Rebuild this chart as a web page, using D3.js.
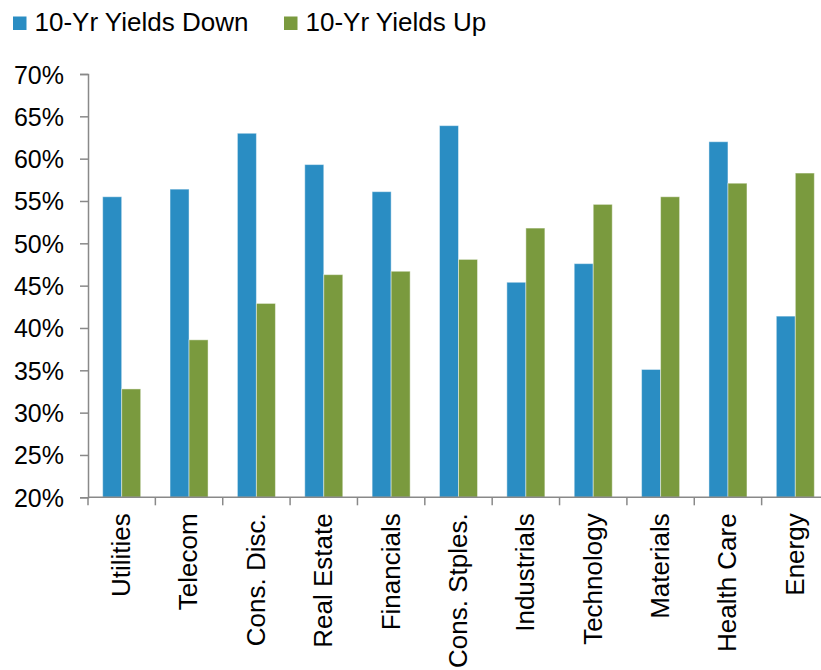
<!DOCTYPE html>
<html>
<head>
<meta charset="utf-8">
<script src="https://cdn.jsdelivr.net/npm/d3@7"></script>
<style>
  html, body { margin: 0; padding: 0; background: #ffffff; }
  svg { display: block; }
  text { font-family: "Liberation Sans", Arial, sans-serif; fill: #000000; }
</style>
</head>
<body>
<div id="chart"></div>
<script>
// Sector hit rates by direction of the 10-year Treasury yield
const categories = ["Utilities", "Telecom", "Cons. Disc.", "Real Estate", "Financials",
  "Cons. Stples.", "Industrials", "Technology", "Materials", "Health Care", "Energy"];
const seriesNames = ["10-Yr Yields Down", "10-Yr Yields Up"];
const yieldsDown = [55.5, 56.4, 63.0, 59.3, 56.1, 63.9, 45.4, 47.6, 35.1, 62.0, 41.4];
const yieldsUp   = [32.8, 38.6, 42.9, 46.3, 46.7, 48.1, 51.8, 54.6, 55.5, 57.1, 58.3];
const yTicks = [20, 25, 30, 35, 40, 45, 50, 55, 60, 65, 70];
const colors = ["#2a8dc3", "#7a9a3e"];

const width = 821, height = 670;
const plotLeft = 88, plotRight = 829, plotTop = 74, plotBottom = 497.3;

const svg = d3.select("#chart").append("svg")
  .attr("width", width).attr("height", height);

const x = d3.scaleBand().domain(categories).range([plotLeft, plotRight]).paddingInner(0).paddingOuter(0);
const xSub = d3.scaleBand().domain(seriesNames).range([0, x.bandwidth()])
  .paddingInner(0).paddingOuter(0.772);
const y = d3.scaleLinear().domain([20, 70]).range([plotBottom, plotTop]);

const rows = categories.map((c, i) => ({ c, vals: [yieldsDown[i], yieldsUp[i]] }));

// Bars
const groups = svg.append("g").selectAll("g").data(rows).join("g")
  .attr("transform", d => `translate(${x(d.c)},0)`);
groups.selectAll("rect")
  .data(d => d.vals.map((v, k) => ({ k, v })))
  .join("rect")
  .attr("x", d => xSub(seriesNames[d.k]))
  .attr("width", xSub.bandwidth())
  .attr("y", d => y(d.v))
  .attr("height", d => y(20) - y(d.v))
  .attr("fill", d => colors[d.k])
  .attr("stroke", "rgba(255,255,255,0.45)")
  .attr("stroke-width", 1);

// Y axis
const yAxis = svg.append("g").attr("transform", `translate(${plotLeft},0)`)
  .call(d3.axisLeft(y).tickValues(yTicks).tickFormat(d => d + "%").tickSizeOuter(0).tickSize(8).tickPadding(16));
yAxis.select(".domain").attr("stroke", "#898989").attr("stroke-width", 1.5);
yAxis.selectAll(".tick line").attr("stroke", "#898989").attr("stroke-width", 1.5);
yAxis.selectAll(".tick text")
  .attr("font-size", 25).attr("dy", "0.36em")
  .style("font-family", '"Liberation Sans", Arial, sans-serif').attr("fill", "#000");

// X axis: line with ticks on band boundaries
const xAxisG = svg.append("g").attr("transform", `translate(0,${plotBottom})`);
xAxisG.append("line").attr("x1", plotLeft).attr("x2", plotRight)
  .attr("stroke", "#898989").attr("stroke-width", 1.5);
const edges = categories.map(c => x(c)).concat([x(categories[categories.length - 1]) + x.bandwidth()]);
xAxisG.selectAll("line.tk").data(edges).join("line").attr("class", "tk")
  .attr("x1", d => d).attr("x2", d => d).attr("y1", 0).attr("y2", 8)
  .attr("stroke", "#898989").attr("stroke-width", 1.5);
xAxisG.selectAll("text").data(categories).join("text")
  .attr("transform", d => `translate(${x(d) + x.bandwidth() / 2 - 1},16) rotate(-90)`)
  .attr("text-anchor", "end")
  .attr("dy", "0.36em")
  .attr("font-size", 26)
  .text(d => d);

// Legend
const legendX = [13, 284];
const legend = svg.append("g").selectAll("g").data(seriesNames).join("g")
  .attr("transform", (d, i) => `translate(${legendX[i]},0)`);
legend.append("rect").attr("x", 0).attr("y", 16.5).attr("width", 13.5).attr("height", 13.5)
  .attr("fill", (d, i) => colors[i]);
legend.append("text").attr("x", 21.5).attr("y", 31).attr("font-size", 26).text(d => d);
</script>
</body>
</html>
